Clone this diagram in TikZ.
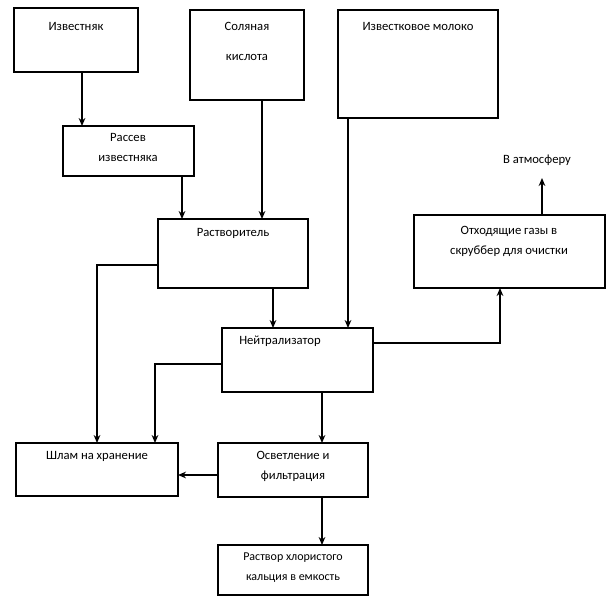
\documentclass[tikz,border=0pt]{standalone}
\usepackage{fontspec}
\setmainfont{Carlito}
\usetikzlibrary{arrows.meta}
\begin{document}
\begin{tikzpicture}[x=0.75pt,y=-0.75pt,
  box/.style={draw,line width=0.9pt},
  lbl/.style={font=\fontsize{9.5}{15}\selectfont,align=center,anchor=north},
  ar/.style={line width=1.4pt,-{Stealth[length=6pt,width=5pt]}},
  art/.style={line width=0.8pt,-{Stealth[length=6pt,width=5pt]}}]
\useasboundingbox[fill=white] (0,0) rectangle (615,601);
\draw[box] (14,8) rectangle (138,72);
\node[lbl] (a) at (76,18) {Известняк};
\draw[box] (190,10) rectangle (304,100);
\node[lbl] (b) at (247,18) {Соляная\\[7pt]кислота};
\draw[box] (338,10) rectangle (498,118);
\node[lbl] (c) at (418,18) {Известковое молоко};
\draw[box] (63,126) rectangle (194,176);
\node[lbl] (d) at (128,129) {Рассев\\известняка};
\draw[box] (158,219) rectangle (308,288);
\node[lbl] (e) at (233,224) {Растворитель};
\draw[box] (414,215) rectangle (605,288);
\node[lbl] (f) at (509,222) {Отходящие газы  в\\скруббер для очистки};
\draw[box] (222,328) rectangle (373,392);
\node[lbl] (g) at (280,331) {Нейтрализатор};
\draw[box] (16,443) rectangle (178,496);
\node[lbl] (h) at (97,447) {Шлам на хранение};
\draw[box] (218,443) rectangle (368,497);
\node[lbl] (i) at (293,447) {Осветление и\\фильтрация};
\draw[box] (218,545) rectangle (368,595);
\node[lbl,font=\fontsize{9}{15}\selectfont] (j) at (293,548) {Раствор хлористого\\кальция  в емкость};
\node[lbl] (k) at (537,150) {В атмосферу};
\coordinate (a1) at (82,72); \coordinate (a2) at (82,126);
\draw[ar] (a1) -- (a2);
\coordinate (d1) at (182,176); \coordinate (d2) at (182,219);
\draw[ar] (d1) -- (d2);
\coordinate (b1) at (262,100); \coordinate (b2) at (262,219);
\draw[ar] (b1) -- (b2);
\coordinate (c1) at (348,118); \coordinate (c2) at (348,328);
\draw[ar] (c1) -- (c2);
\coordinate (e1) at (273,288); \coordinate (e2) at (273,328);
\draw[ar] (e1) -- (e2);
\coordinate (e3) at (158,265); \coordinate (h1) at (97,443);
\draw[ar] (e3) -| (h1);
\coordinate (g1) at (222,364); \coordinate (h2) at (155,443);
\draw[ar] (g1) -| (h2);
\coordinate (g2) at (373,343); \coordinate (f1) at (500,288);
\draw[ar] (g2) -| (f1);
\coordinate (f2) at (542,215); \coordinate (f3) at (542,178);
\draw[ar] (f2) -- (f3);
\coordinate (g3) at (322,392); \coordinate (i1) at (322,443);
\draw[ar] (g3) -- (i1);
\coordinate (i2) at (218,475); \coordinate (h3) at (178,475);
\draw[ar] (i2) -- (h3);
\coordinate (i3) at (322,497); \coordinate (j1) at (322,545);
\draw[art] (i3) -- (j1);
\end{tikzpicture}
\end{document}
